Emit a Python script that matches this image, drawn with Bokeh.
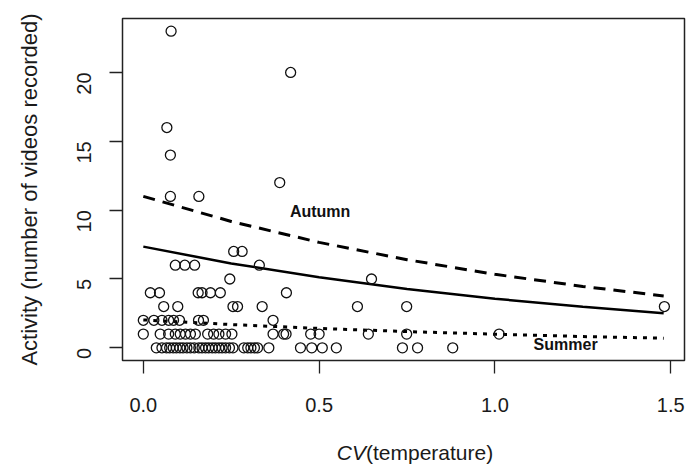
import math
from bokeh.plotting import figure
from bokeh.models import Range1d, FixedTicker, Label, ColumnDataSource, Div
from bokeh.layouts import column
from bokeh.embed import file_html
from bokeh.resources import INLINE

# ---- data ----
cv_row0 = [0.037, 0.053, 0.066, 0.075, 0.085, 0.094, 0.104, 0.113, 0.124, 0.134, 0.145,
           0.158, 0.167, 0.177, 0.186, 0.196, 0.205, 0.215, 0.224, 0.234, 0.245, 0.255,
           0.286, 0.297, 0.306, 0.316, 0.325, 0.357, 0.447, 0.479, 0.509, 0.549,
           0.737, 0.780, 0.880]
cv_row1 = [0.0, 0.048, 0.072, 0.091, 0.105, 0.120, 0.134, 0.148, 0.183, 0.200, 0.215,
           0.234, 0.252, 0.369, 0.399, 0.406, 0.476, 0.500, 0.640, 0.749, 1.012]
cv_row2 = [0.0, 0.030, 0.053, 0.072, 0.086, 0.103, 0.157, 0.171, 0.369]
cv_row3 = [0.058, 0.098, 0.255, 0.268, 0.338, 0.609, 0.749, 1.482]
cv_row4 = [0.020, 0.046, 0.156, 0.167, 0.191, 0.219, 0.407]
cv_row5 = [0.246, 0.649]
cv_row6 = [0.091, 0.118, 0.146, 0.330]
cv_row7 = [0.257, 0.281]
cv_high = [0.077, 0.158, 0.388, 0.077, 0.067, 0.419, 0.079]
act_high = [11, 11, 12, 14, 16, 20, 23]

# fitted curves read at these CV values
curve_cv = [0.0, 0.25, 0.5, 0.75, 1.0, 1.25, 1.48]
fit_overall = [7.35, 6.13, 5.12, 4.27, 3.57, 2.98, 2.52]
fit_autumn = [11.0, 9.18, 7.66, 6.40, 5.34, 4.46, 3.77]
fit_summer = [2.03, 1.69, 1.41, 1.18, 0.99, 0.82, 0.70]

x_ticks = [0.0, 0.5, 1.0, 1.5]
x_tick_labels = ["0.0", "0.5", "1.0", "1.5"]
y_ticks = [0, 5, 10, 15, 20]
y_tick_labels = ["0", "5", "10", "15", "20"]

# assemble points
rows = [cv_row0, cv_row1, cv_row2, cv_row3, cv_row4, cv_row5, cv_row6, cv_row7]
px, py = [], []
for val, r in enumerate(rows):
    px += r
    py += [val] * len(r)
px += cv_high
py += act_high

FONT = "Liberation Sans"

p = figure(width=700, height=430, output_backend="svg", toolbar_location=None,
           x_range=Range1d(-0.0592, 1.5392), y_range=Range1d(-0.92, 23.92),
           min_border_left=122, min_border_right=16, min_border_top=18, min_border_bottom=70)
p.background_fill_color = "white"
p.border_fill_color = "white"
p.outline_line_color = "#222222"
p.outline_line_width = 1.5
p.xgrid.visible = False
p.ygrid.visible = False

for ax in (p.xaxis[0], p.yaxis[0]):
    ax.axis_line_color = None
    ax.major_tick_in = 0
    ax.major_tick_out = 13
    ax.major_tick_line_color = "#222222"
    ax.major_tick_line_width = 1.3
    ax.minor_tick_line_color = None
    ax.major_label_text_font = FONT
    ax.major_label_text_font_size = "20px"
    ax.major_label_text_color = "#1a1a1a"

p.xaxis.ticker = FixedTicker(ticks=x_ticks)
p.xaxis.major_label_overrides = {t: s for t, s in zip(x_ticks, x_tick_labels)}
p.xaxis.major_label_standoff = 24

p.yaxis.ticker = FixedTicker(ticks=y_ticks)
p.yaxis.major_label_overrides = {t: s for t, s in zip(y_ticks, y_tick_labels)}
p.yaxis.major_label_orientation = math.pi / 2
p.yaxis.major_label_standoff = 25
p.yaxis.axis_label = "Activity (number of videos recorded)"
p.yaxis.axis_label_text_font = FONT
p.yaxis.axis_label_text_font_style = "normal"
p.yaxis.axis_label_text_font_size = "22px"
p.yaxis.axis_label_text_color = "#1a1a1a"
p.yaxis.axis_label_standoff = 26

# curves
p.line(curve_cv, fit_autumn, line_color="black", line_width=3, line_dash="12 8")
p.line(curve_cv, fit_overall, line_color="black", line_width=2.5)
p.line(curve_cv, fit_summer, line_color="black", line_width=3, line_dash="4 6")

# points
src = ColumnDataSource(dict(x=px, y=py))
p.scatter("x", "y", source=src, marker="circle", size=10, fill_color=None,
          line_color="#111111", line_width=1.3)

# curve labels
p.add_layout(Label(x=0.417, y=9.9, text="Autumn", text_font=FONT, text_font_style="bold",
                   text_font_size="16px", text_baseline="middle", text_align="left",
                   text_color="#111111"))
p.add_layout(Label(x=1.11, y=0.24, text="Summer", text_font=FONT, text_font_style="bold",
                   text_font_size="16px", text_baseline="middle", text_align="left",
                   text_color="#111111"))

# x-axis title: italic CV + (temperature)
xlab = Div(
    text=('<div style="margin-left:120px;width:580px;text-align:center;'
          'font-family:\'Liberation Sans\';font-size:21px;line-height:24px;'
          'padding-top:6px;color:#1a1a1a;"><i>CV</i>(temperature)</div>'),
    width=700, height=39)

layout = column(p, xlab, spacing=0)
open("out.html", "w").write(file_html(layout, INLINE))
